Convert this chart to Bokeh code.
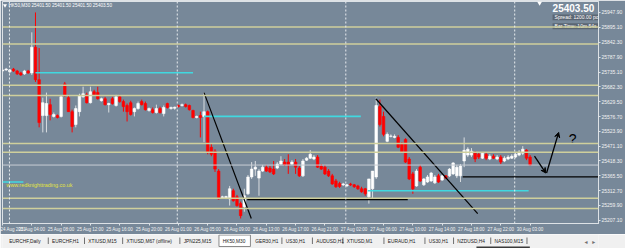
from bokeh.plotting import figure
from bokeh.models import (ColumnDataSource, Range1d, FixedTicker, PrintfTickFormatter,
                          Label, Span, Arrow, VeeHead)
from bokeh.layouts import column
from bokeh.embed import file_html
from bokeh.resources import INLINE
from bokeh.core.properties import value

# ---------------- data (HK50, M30) ----------------
open_ = [25739, 25743, 25736, 25746, 25739, 25732, 25729, 25739, 25732, 25824,
         25708, 25580, 25580, 25619, 25577, 25580, 25577, 25693, 25644, 25594,
         25548, 25594, 25647, 25654, 25626, 25665, 25662, 25633, 25640, 25619,
         25640, 25616, 25647, 25630, 25616, 25626, 25594, 25605, 25630, 25623,
         25598, 25601, 25591, 25605, 25587, 25623, 25605, 25606, 25616, 25616,
         25619, 25616, 25598, 25573, 25580, 25577, 25594, 25467, 25453, 25382,
         25287, 25286, 25283, 25312, 25290, 25266, 25255, 25301, 25361, 25389,
         25357, 25382, 25396, 25393, 25389, 25393, 25407, 25414, 25414, 25407,
         25414, 25393, 25365, 25421, 25428, 25425, 25432, 25400, 25396, 25382,
         25365, 25347, 25338, 25333, 25329, 25336, 25333, 25329, 25319, 25319,
         25290, 25319, 25361, 25612, 25577, 25488, 25506, 25502, 25502, 25478,
         25495, 25425, 25372, 25329, 25396, 25333, 25343, 25347, 25340, 25365,
         25350, 25365, 25365, 25372, 25365, 25365, 25418, 25439, 25439, 25446,
         25442, 25428, 25442, 25425, 25435, 25425, 25432, 25418, 25425, 25428,
         25432, 25439, 25446, 25457, 25432]
high = [25746, 25750, 25746, 25750, 25743, 25736, 25743, 25743, 25877, 25948,
        25821, 25644, 25662, 25640, 25591, 25584, 25651, 25700, 25654, 25601,
        25616, 25658, 25683, 25662, 25683, 25672, 25683, 25644, 25647, 25626,
        25647, 25654, 25654, 25637, 25623, 25633, 25609, 25630, 25637, 25630,
        25609, 25609, 25619, 25612, 25616, 25626, 25612, 25612, 25619, 25623,
        25623, 25619, 25601, 25580, 25594, 25662, 25598, 25481, 25460, 25389,
        25294, 25294, 25329, 25319, 25297, 25273, 25319, 25368, 25414, 25418,
        25389, 25404, 25404, 25400, 25418, 25414, 25435, 25425, 25442, 25421,
        25425, 25400, 25425, 25432, 25457, 25439, 25439, 25407, 25404, 25389,
        25372, 25354, 25344, 25340, 25336, 25340, 25336, 25333, 25326, 25322,
        25354, 25382, 25644, 25637, 25594, 25520, 25513, 25513, 25510, 25485,
        25499, 25432, 25379, 25389, 25404, 25357, 25368, 25379, 25368, 25372,
        25368, 25368, 25393, 25414, 25404, 25407, 25502, 25467, 25464, 25453,
        25449, 25449, 25449, 25442, 25442, 25439, 25439, 25435, 25439, 25442,
        25449, 25457, 25471, 25460, 25439]
low = [25736, 25739, 25732, 25736, 25725, 25722, 25725, 25729, 25725, 25700,
       25538, 25520, 25520, 25563, 25573, 25570, 25573, 25647, 25594, 25520,
       25538, 25577, 25644, 25623, 25623, 25651, 25637, 25630, 25616, 25591,
       25619, 25612, 25626, 25594, 25559, 25580, 25577, 25601, 25616, 25598,
       25594, 25587, 25587, 25587, 25577, 25605, 25601, 25601, 25609, 25612,
       25609, 25598, 25570, 25570, 25502, 25485, 25442, 25435, 25379, 25280,
       25283, 25282, 25259, 25273, 25255, 25213, 25237, 25297, 25354, 25365,
       25294, 25379, 25379, 25375, 25368, 25389, 25404, 25400, 25372, 25404,
       25372, 25361, 25361, 25418, 25425, 25421, 25393, 25386, 25368, 25361,
       25333, 25322, 25322, 25329, 25326, 25329, 25322, 25315, 25305, 25294,
       25266, 25280, 25354, 25541, 25506, 25485, 25502, 25499, 25464, 25446,
       25411, 25350, 25301, 25326, 25343, 25329, 25340, 25343, 25336, 25340,
       25347, 25354, 25361, 25368, 25357, 25343, 25396, 25432, 25432, 25414,
       25425, 25425, 25421, 25421, 25425, 25421, 25407, 25414, 25421, 25425,
       25428, 25435, 25439, 25421, 25400]
close = [25743, 25746, 25743, 25739, 25729, 25725, 25739, 25732, 25824, 25708,
         25555, 25626, 25623, 25584, 25584, 25573, 25647, 25651, 25594, 25541,
         25605, 25651, 25658, 25626, 25665, 25654, 25640, 25640, 25619, 25623,
         25623, 25647, 25630, 25612, 25594, 25584, 25605, 25623, 25619, 25601,
         25605, 25591, 25605, 25591, 25609, 25609, 25609, 25610, 25612, 25619,
         25612, 25601, 25573, 25577, 25573, 25594, 25449, 25442, 25389, 25283,
         25290, 25291, 25319, 25276, 25259, 25223, 25294, 25361, 25389, 25396,
         25382, 25396, 25382, 25379, 25372, 25407, 25418, 25404, 25404, 25414,
         25396, 25365, 25418, 25428, 25442, 25432, 25396, 25389, 25372, 25365,
         25336, 25326, 25327, 25336, 25333, 25333, 25326, 25319, 25308, 25301,
         25354, 25382, 25616, 25548, 25513, 25513, 25507, 25506, 25467, 25449,
         25414, 25354, 25319, 25382, 25347, 25354, 25361, 25375, 25361, 25343,
         25365, 25357, 25389, 25411, 25396, 25400, 25456, 25460, 25453, 25425,
         25432, 25446, 25428, 25435, 25428, 25432, 25414, 25428, 25432, 25435,
         25442, 25449, 25460, 25428, 25403.5]

time_ticks = [0, 8, 16, 24, 32, 40, 48, 56, 64, 72, 80, 88, 96, 104, 112, 120, 128, 136, 144]
time_labels = ["24 Aug 2021", "25 Aug 04:00", "25 Aug 08:00", "25 Aug 12:00", "25 Aug 16:00",
               "25 Aug 20:00", "26 Aug 01:00", "26 Aug 05:00", "26 Aug 09:00", "26 Aug 13:00",
               "26 Aug 17:00", "26 Aug 21:00", "27 Aug 02:00", "27 Aug 06:00", "27 Aug 10:00",
               "27 Aug 14:00", "27 Aug 18:00", "27 Aug 22:00", "30 Aug 03:00"]
day_breaks = [1.9, 47.7, 93.7, 139.8]

price_ticks = [25947.9, 25895.1, 25842.3, 25787.9, 25735.1, 25682.3, 25629.5, 25576.7,
               25523.9, 25471.1, 25418.3, 25365.5, 25312.7, 25259.9, 25207.1]
levels = [25895.64, 25834.97, 25688.09, 25651.33, 25480.61, 25449.41, 25284.81, 25248.52]
bid = 25403.50

cyan_x0 = [0, 9, 55, 99.7]
cyan_x1 = [5.7, 52, 97.8, 143.6]
cyan_y = [25343, 25733, 25577, 25312]

black_x0 = [55, 66.8, 101.9, 125.6]
black_y0 = [25662, 25280, 25640, 25361]
black_x1 = [67.9, 110.6, 129.7, 170]
black_y1 = [25213, 25280, 25230, 25361]

arrow_x0 = [145.2, 148.5]
arrow_y0 = [25435, 25375]
arrow_x1 = [148.3, 151.8]
arrow_y1 = [25375, 25520]

tabs = ["EURCHF,Daily", "EURCHF,H1", "XTIUSD,M15", "XTIUSD,M67 (offline)", "JPN225,M15",
        "HK50,M30", "GER30,H1", "US30,H1", "AUDUSD,H1", "XTIUSD,M1", "EURAUD,H1",
        "US30,H1", "NZDUSD,H4", "NAS100,M15"]
active_tab = "HK50,M30"

# ---------------- layout constants ----------------
FONT = "Liberation Sans"
BG = "#778899"
FG = "#F2F2F2"
BAR_PX = 3.67
X0 = 0.0
X1 = X0 + 597 / BAR_PX
Y0, Y1 = 25195.0, 25987.0
PPP = (Y1 - Y0) / 224.0
TAB_LEFT = [7, 52, 90, 130, 190, 231, 265, 297, 329, 361, 404, 447, 477, 516]


def xi(px):
    return X0 + (px - 2) / BAR_PX


def yp(py):
    return Y1 - (py - 1) * PPP


p = figure(width=625, height=234, x_range=Range1d(X0, X1), y_range=Range1d(Y0, Y1),
           output_backend="svg", toolbar_location=None, y_axis_location="right",
           min_border_left=2, min_border_top=1, min_border_right=0, min_border_bottom=9)
p.background_fill_color = BG
p.border_fill_color = BG
p.outline_line_color = "#DDE2E6"
p.grid.visible = False

# axes
p.yaxis.ticker = FixedTicker(ticks=price_ticks)
p.yaxis.formatter = PrintfTickFormatter(format="%.2f")
p.xaxis.ticker = FixedTicker(ticks=time_ticks)
p.xaxis.major_label_overrides = {t: s for t, s in zip(time_ticks, time_labels)}
for ax in (p.xaxis[0], p.yaxis[0]):
    ax.major_label_text_font = FONT
    ax.major_label_text_font_size = "5px"
    ax.major_label_text_color = FG
    ax.major_tick_out = 2
    ax.major_tick_in = 0
    ax.minor_tick_out = 0
    ax.minor_tick_in = 0
    ax.axis_line_color = "#DDE2E6"
    ax.major_tick_line_color = "#DDE2E6"
    ax.major_label_standoff = 1
p.xaxis.major_label_text_font_size = "4.5px"
p.xaxis.major_label_text_align = "left"

# horizontal levels, bid line, day separators
for v in levels:
    p.add_layout(Span(location=v, dimension="width", line_color="#CFCF9C", line_width=1.5))
p.add_layout(Span(location=bid, dimension="width", line_color="#C9CED4", line_width=1))
for d in day_breaks:
    p.add_layout(Span(location=d, dimension="height", line_color="#E8ECEF",
                      line_width=1, line_dash="2 2"))

# candles
inc = [c >= o for o, c in zip(open_, close)]
src = ColumnDataSource(dict(
    x=list(range(len(open_))),
    high=high, low=low,
    top=[max(o, c) for o, c in zip(open_, close)],
    bottom=[min(o, c) for o, c in zip(open_, close)],
    body=["#FFFFFF" if u else "#FF0000" for u in inc],
    wick=["#D9DDE0" if u else "#FF0000" for u in inc],
))
p.segment(x0="x", y0="low", x1="x", y1="high", line_color="wick", line_width=1, source=src)
p.vbar(x="x", width=0.7, top="top", bottom="bottom", fill_color="body",
       line_color="body", line_width=0.6, source=src)

# drawn objects
p.segment(x0=cyan_x0, y0=cyan_y, x1=cyan_x1, y1=cyan_y, line_color="#40D8E0", line_width=1.6)
p.segment(x0=black_x0, y0=black_y0, x1=black_x1, y1=black_y1, line_color="#000000", line_width=1.2)
for ax0, ay0, ax1, ay1 in zip(arrow_x0, arrow_y0, arrow_x1, arrow_y1):
    p.add_layout(Arrow(end=VeeHead(size=5, line_color="black", fill_color="black", line_width=1),
                       x_start=ax0, y_start=ay0, x_end=ax1, y_end=ay1,
                       line_color="black", line_width=1.3))
p.text(x=[xi(573)], y=[yp(140)], text=["?"], text_font=value(FONT), text_font_size="14px",
       text_color="#000000", text_align="center", text_baseline="middle")

# info panel (top right)
p.quad(left=[xi(553)], right=[X1 + 1], top=[yp(14)], bottom=[yp(20)],
       fill_color="#5B6673", line_color=None)
p.quad(left=[xi(553)], right=[X1 + 1], top=[yp(23)], bottom=[yp(29)],
       fill_color="#5B6673", line_color=None)
p.text(x=[xi(553)], y=[yp(4)], text=["25403.50"], text_font=value(FONT), text_font_size="10px",
       text_font_style="bold", text_color="#FFFFFF", text_baseline="top")
p.text(x=[xi(555), xi(555)], y=[yp(17), yp(26)],
       text=["Spread: 1200.00 points", "Bar Time: 10m 54s"], text_font=value(FONT),
       text_font_size="5px", text_color="#FFFFFF", text_baseline="middle")
p.scatter(x=[xi(540)], y=[yp(2.5)], marker="inverted_triangle", size=5,
          fill_color="#FFFFFF", line_color=None)

# top-left header and website
p.scatter(x=[xi(4.5)], y=[yp(5)], marker="inverted_triangle", size=4,
          fill_color="#FFFFFF", line_color=None)
p.text(x=[xi(8)], y=[yp(5)], text=["HK50,M30  25401.50 25401.50 25401.50 25403.50"],
       text_font=value(FONT), text_font_size="4.6px", text_color="#FFFFFF",
       text_baseline="middle")
p.text(x=[xi(6)], y=[yp(186)], text=["www.redknighttrading.co.uk"], text_font=value(FONT),
       text_font_size="5.4px", text_color="#E2E23C", text_baseline="middle")

# price-axis boxes
for v in levels:
    p.add_layout(Label(x=X1, y=v, x_offset=2, text=f"{v:.2f}", text_font=FONT,
                       text_font_size="5px", text_color="#000000", text_baseline="middle",
                       background_fill_color="#F2E879", padding=1))
p.add_layout(Label(x=X1, y=bid, x_offset=2, text=f"{bid:.2f}", text_font=FONT,
                   text_font_size="5px", text_color="#303030", text_baseline="middle",
                   background_fill_color="#E8EAEC", padding=1))

# ---------------- tab bar ----------------
t = figure(width=625, height=14, x_range=Range1d(0, 625), y_range=Range1d(0, 14),
           output_backend="svg", toolbar_location=None, x_axis_location=None,
           y_axis_location=None, min_border=0)
t.background_fill_color = "#F0F0F0"
t.border_fill_color = "#F0F0F0"
t.outline_line_color = None
t.grid.visible = False
ai = tabs.index(active_tab)
t.quad(left=[TAB_LEFT[ai] - 4], right=[TAB_LEFT[ai + 1] - 5], top=[13.5],
       bottom=[2], fill_color="#FFFFFF", line_color="#8A8A8A", line_width=1)
sep_x = [x - 4 for k, x in enumerate(TAB_LEFT) if k not in (0, ai, ai + 1)] + [550]
t.segment(x0=sep_x, y0=[4.5] * len(sep_x), x1=sep_x, y1=[11] * len(sep_x),
          line_color="#707070", line_width=1)
t.text(x=TAB_LEFT, y=[7.5] * len(tabs), text=tabs, text_font=value(FONT), text_font_size="4.8px",
       text_color="#202020", text_baseline="middle")
t.text(x=[612, 620], y=[7.5, 7.5], text=["\u25C2", "\u25B8"], text_font=value("DejaVu Sans"),
       text_font_size="6px", text_color="#707070", text_baseline="middle", text_align="center")
t.quad(left=[497], right=[553], top=[2], bottom=[0], fill_color="#3A3A3A", line_color=None)

layout = column(p, t, spacing=0)
open("out.html", "w").write(file_html(layout, INLINE))
